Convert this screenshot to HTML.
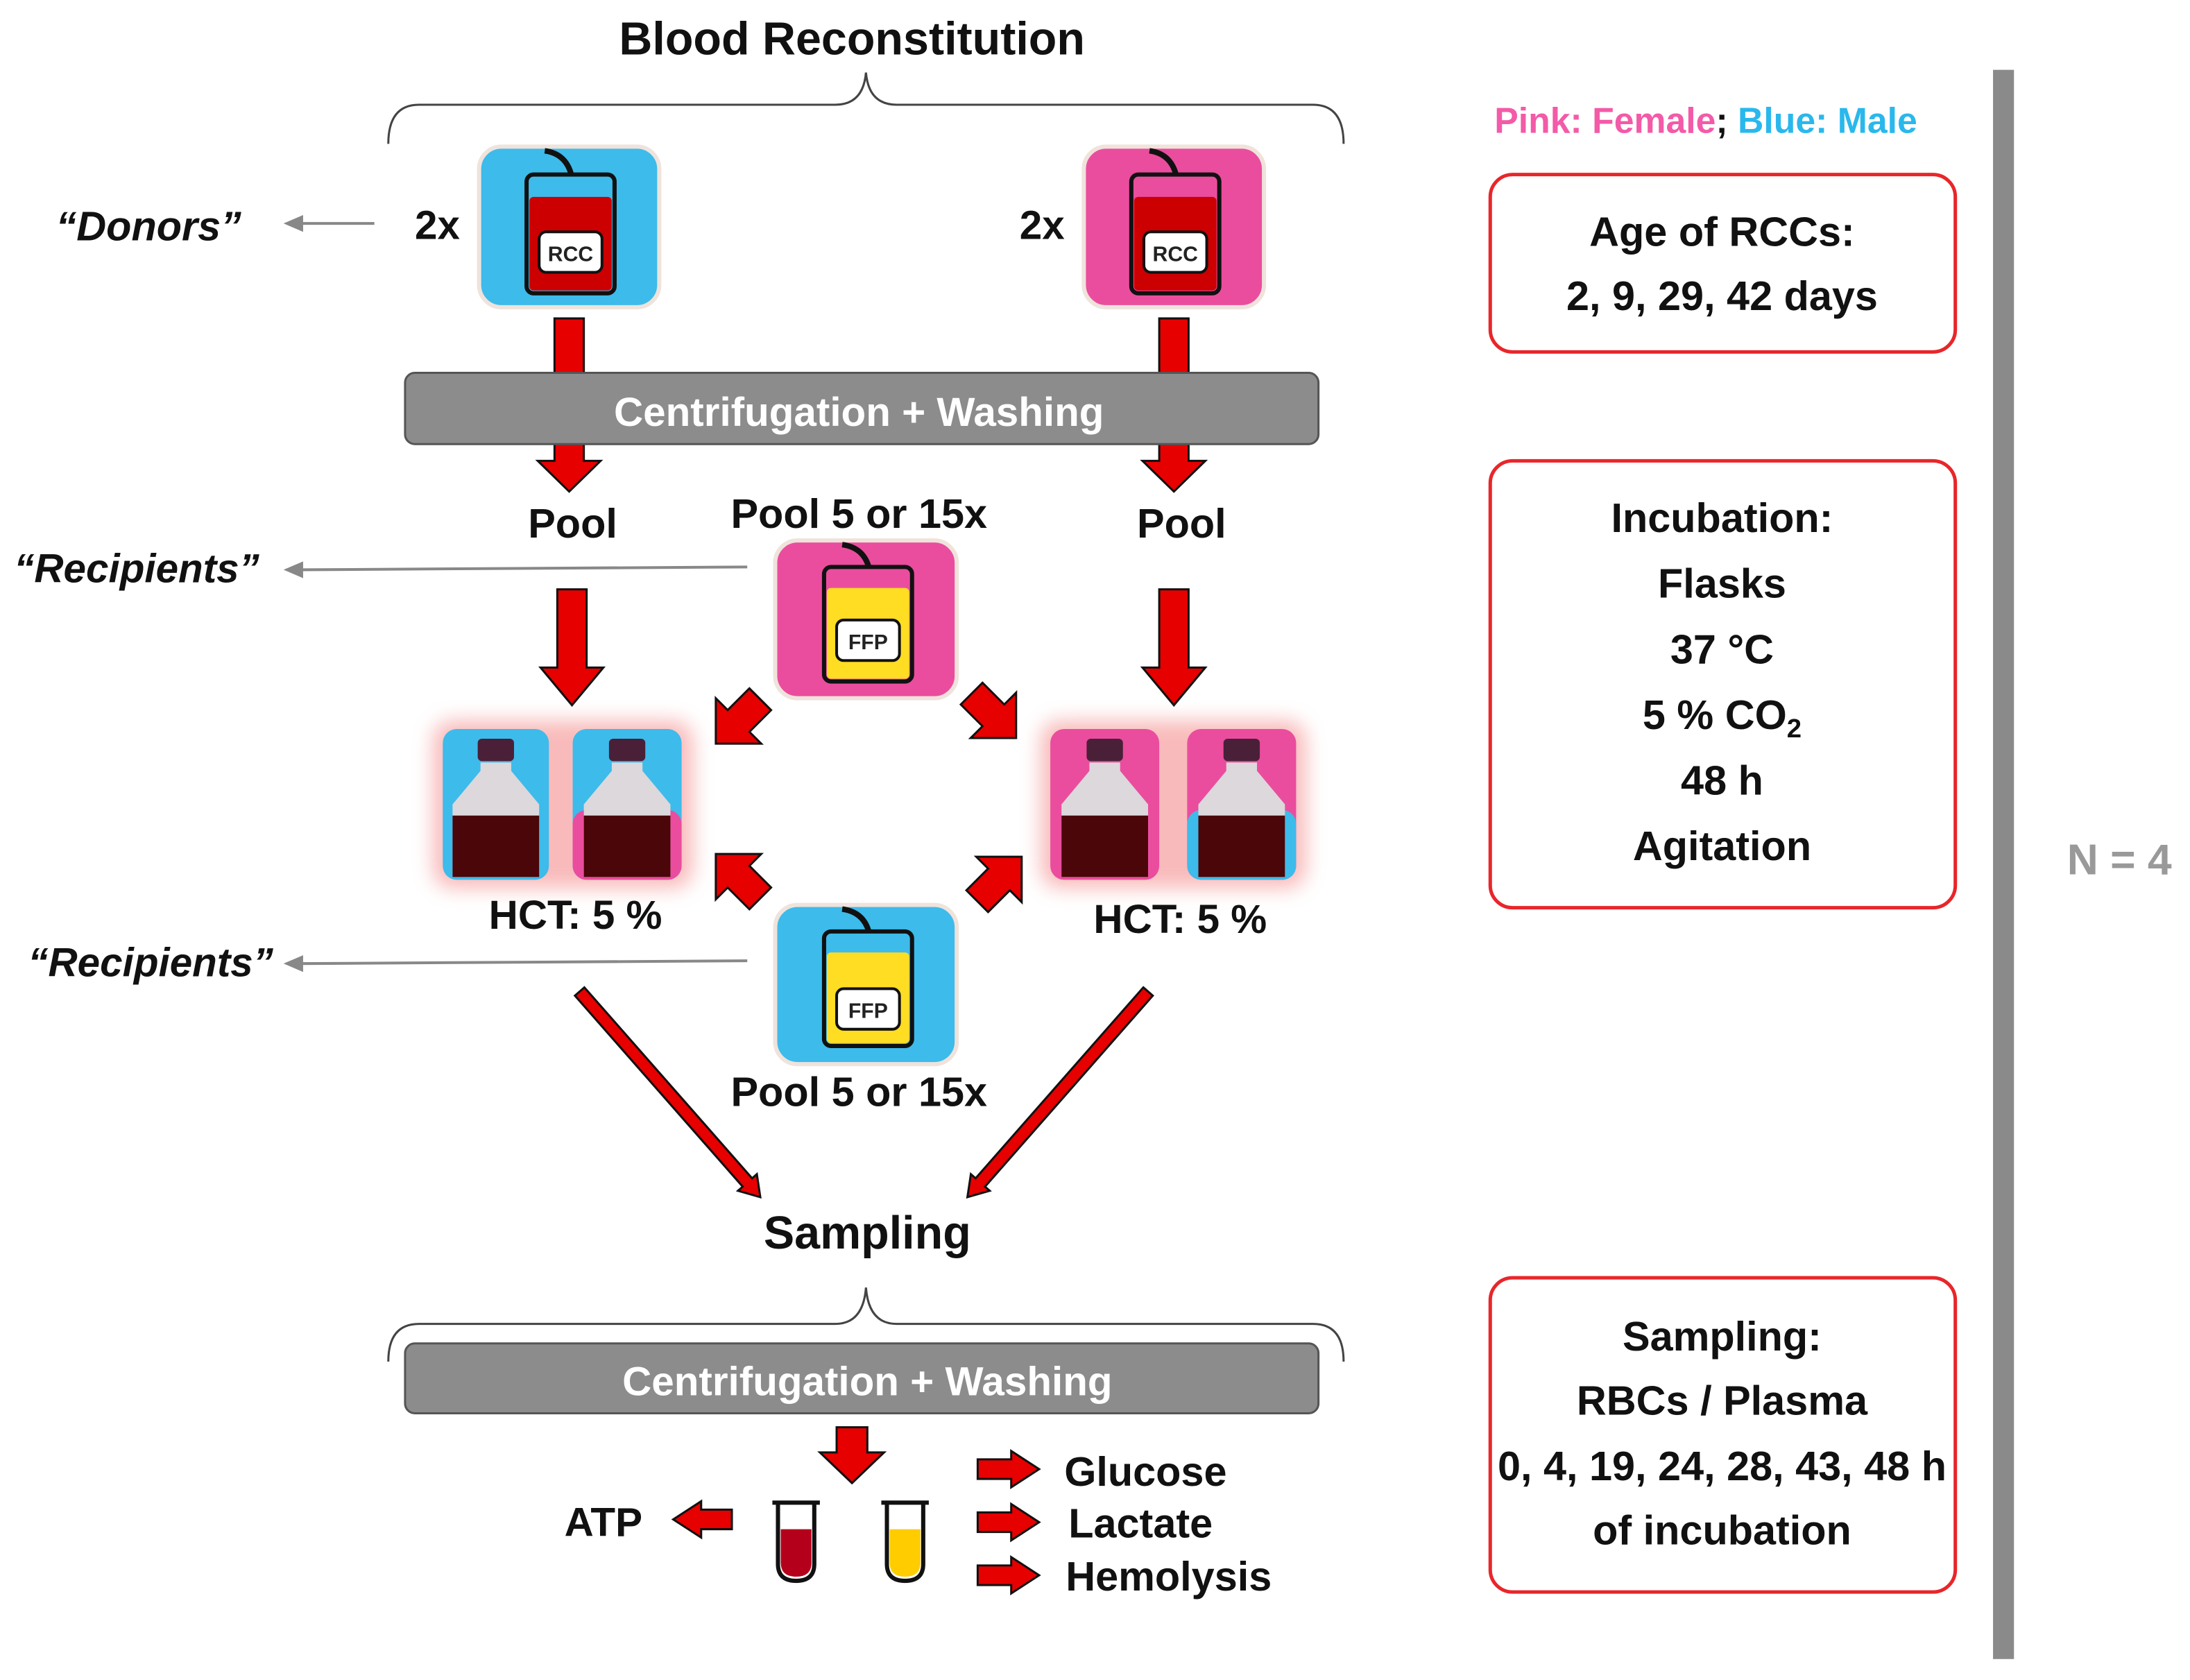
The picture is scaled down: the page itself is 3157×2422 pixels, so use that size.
<!DOCTYPE html>
<html><head><meta charset="utf-8"><style>
html,body{margin:0;padding:0;background:#fff;}
svg{display:block;}
text{font-family:"Liberation Sans",Arial,sans-serif;font-weight:bold;}
</style></head><body>
<svg width="3157" height="2422" viewBox="0 0 1568 1203" xmlns="http://www.w3.org/2000/svg">
<defs>
<filter id="glow" x="-30%" y="-30%" width="160%" height="160%"><feGaussianBlur stdDeviation="7"/></filter>
</defs>
<rect width="1568" height="1203" fill="#fff"/>

<text x="610" y="39" font-size="33" text-anchor="middle" fill="#111">Blood Reconstitution</text>
<path d="M278,103 Q278,75 300,75 L598,75 Q618,75 620,52 Q622,75 642,75 L940,75 Q962,75 962,103" fill="none" stroke="#444" stroke-width="1.5"/>

<text x="40" y="172" font-size="29.5" font-style="italic" fill="#111">“Donors”</text>
<line x1="268" y1="160" x2="215" y2="160" stroke="#888" stroke-width="2"/>
<polygon points="203,160 217,154 217,166" fill="#888"/>
<text x="297" y="171" font-size="29" fill="#111">2x</text>
<text x="730" y="171" font-size="29" fill="#111">2x</text>

<rect x="343" y="105" width="129" height="115" rx="16" fill="#3dbbeb" stroke="#efe3dc" stroke-width="3"/>
<path d="M390,108 Q405,110 409,125" fill="none" stroke="#111" stroke-width="4"/>
<rect x="377" y="125" width="63" height="85" rx="5" fill="#3dbbeb" stroke="#111" stroke-width="3"/>
<rect x="379" y="141" width="59" height="67" rx="3" fill="#cc0000"/>
<rect x="386" y="166" width="45" height="29" rx="5" fill="#fff" stroke="#111" stroke-width="2"/>
<text x="408.5" y="187" font-size="15" text-anchor="middle" fill="#222">RCC</text>

<rect x="776" y="105" width="129" height="115" rx="16" fill="#ea4d9e" stroke="#efe3dc" stroke-width="3"/>
<path d="M823,108 Q838,110 842,125" fill="none" stroke="#111" stroke-width="4"/>
<rect x="810" y="125" width="63" height="85" rx="5" fill="#ea4d9e" stroke="#111" stroke-width="3"/>
<rect x="812" y="141" width="59" height="67" rx="3" fill="#cc0000"/>
<rect x="819" y="166" width="45" height="29" rx="5" fill="#fff" stroke="#111" stroke-width="2"/>
<text x="841.5" y="187" font-size="15" text-anchor="middle" fill="#222">RCC</text>

<rect x="397" y="228" width="21" height="42" fill="#e60000" stroke="#111" stroke-width="1.5"/>
<rect x="830" y="228" width="21" height="42" fill="#e60000" stroke="#111" stroke-width="1.5"/>
<polygon points="397,316 418,316 418,330 430,330 407.5,352 385,330 397,330" fill="#e60000" stroke="#111" stroke-width="1.5"/>
<polygon points="830,316 851,316 851,330 863,330 840.5,352 818,330 830,330" fill="#e60000" stroke="#111" stroke-width="1.5"/>

<rect x="290" y="267" width="654" height="51" rx="7" fill="#8c8c8c" stroke="#555" stroke-width="1.5"/>
<text x="615" y="305" font-size="29" text-anchor="middle" fill="#fff">Centrifugation + Washing</text>

<text x="410" y="385" font-size="29.5" text-anchor="middle" fill="#111">Pool</text>
<text x="846" y="385" font-size="29.5" text-anchor="middle" fill="#111">Pool</text>
<text x="615" y="378" font-size="29.5" text-anchor="middle" fill="#111">Pool 5 or 15x</text>

<text x="10" y="417" font-size="29" font-style="italic" fill="#111">“Recipients”</text>
<line x1="535" y1="406" x2="215" y2="408" stroke="#888" stroke-width="2"/>
<polygon points="203,408 217,402 217,414" fill="#888"/>

<rect x="555" y="387" width="130" height="113" rx="16" fill="#ea4d9e" stroke="#efe3dc" stroke-width="3"/>
<path d="M603,390 Q618,392 622,406" fill="none" stroke="#111" stroke-width="4"/>
<rect x="590" y="406" width="63" height="82" rx="5" fill="#ea4d9e" stroke="#111" stroke-width="3"/>
<rect x="592" y="421" width="59" height="65" rx="3" fill="#ffdd22"/>
<rect x="599" y="444" width="45" height="29" rx="5" fill="#fff" stroke="#111" stroke-width="2"/>
<text x="621.5" y="465" font-size="15" text-anchor="middle" fill="#222">FFP</text>

<polygon points="399,422 420,422 420,478 432,478 409.5,505 387,478 399,478" fill="#e60000" stroke="#111" stroke-width="1.5"/>
<polygon points="830,422 851,422 851,478 863,478 840.5,505 818,478 830,478" fill="#e60000" stroke="#111" stroke-width="1.5"/>

<g fill="#e60000" stroke="#111" stroke-width="1.5">
<polygon points="-16,-11 6,-11 6,-23 29,0 6,23 6,11 -16,11" transform="translate(533,512) rotate(135)"/>
<polygon points="-16,-11 6,-11 6,-23 29,0 6,23 6,11 -16,11" transform="translate(707,508) rotate(45)"/>
<polygon points="-16,-11 6,-11 6,-23 29,0 6,23 6,11 -16,11" transform="translate(533,632) rotate(225)"/>
<polygon points="-16,-11 6,-11 6,-23 29,0 6,23 6,11 -16,11" transform="translate(711,634) rotate(-45)"/>
</g>

<rect x="310" y="516" width="186" height="120" rx="14" fill="#f7a9a9" filter="url(#glow)" opacity="0.8"/>
<rect x="745" y="516" width="190" height="120" rx="14" fill="#f7a9a9" filter="url(#glow)" opacity="0.8"/>

<g>
<rect x="317" y="522" width="76" height="108" rx="10" fill="#3dbbeb"/>
<rect x="342" y="529" width="26" height="16" rx="3" fill="#4a2038"/>
<path d="M344,546 L366,546 L366,552 L386,576 L386,628 L324,628 L324,576 L344,552Z" fill="#dcd8dc"/>
<rect x="324" y="584" width="62" height="44" fill="#4a0608"/>
</g>
<g>
<rect x="410" y="522" width="78" height="108" rx="10" fill="#3dbbeb"/>
<rect x="410" y="580" width="78" height="50" rx="10" fill="#ea4d9e"/>
<rect x="436" y="529" width="26" height="16" rx="3" fill="#4a2038"/>
<path d="M438,546 L460,546 L460,552 L480,576 L480,628 L418,628 L418,576 L438,552Z" fill="#dcd8dc"/>
<rect x="418" y="584" width="62" height="44" fill="#4a0608"/>
</g>
<g>
<rect x="752" y="522" width="78" height="108" rx="10" fill="#ea4d9e"/>
<rect x="778" y="529" width="26" height="16" rx="3" fill="#4a2038"/>
<path d="M780,546 L802,546 L802,552 L822,576 L822,628 L760,628 L760,576 L780,552Z" fill="#dcd8dc"/>
<rect x="760" y="584" width="62" height="44" fill="#4a0608"/>
</g>
<g>
<rect x="850" y="522" width="78" height="108" rx="10" fill="#ea4d9e"/>
<rect x="850" y="580" width="78" height="50" rx="10" fill="#3dbbeb"/>
<rect x="876" y="529" width="26" height="16" rx="3" fill="#4a2038"/>
<path d="M878,546 L900,546 L900,552 L920,576 L920,628 L858,628 L858,576 L878,552Z" fill="#dcd8dc"/>
<rect x="858" y="584" width="62" height="44" fill="#4a0608"/>
</g>

<text x="412" y="665" font-size="29" text-anchor="middle" fill="#111">HCT: 5 %</text>
<text x="845" y="668" font-size="29" text-anchor="middle" fill="#111">HCT: 5 %</text>

<text x="20" y="699" font-size="29" font-style="italic" fill="#111">“Recipients”</text>
<line x1="535" y1="688" x2="215" y2="690" stroke="#888" stroke-width="2"/>
<polygon points="203,690 217,684 217,696" fill="#888"/>

<rect x="555" y="648" width="130" height="114" rx="16" fill="#3dbbeb" stroke="#efe3dc" stroke-width="3"/>
<path d="M603,651 Q618,653 622,667" fill="none" stroke="#111" stroke-width="4"/>
<rect x="590" y="667" width="63" height="82" rx="5" fill="#3dbbeb" stroke="#111" stroke-width="3"/>
<rect x="592" y="682" width="59" height="65" rx="3" fill="#ffdd22"/>
<rect x="599" y="708" width="45" height="29" rx="5" fill="#fff" stroke="#111" stroke-width="2"/>
<text x="621.5" y="729" font-size="15" text-anchor="middle" fill="#222">FFP</text>

<text x="615" y="792" font-size="29.5" text-anchor="middle" fill="#111">Pool 5 or 15x</text>

<g fill="#e60000" stroke="#111" stroke-width="1.5">
<polygon points="0,-4.5 182,-4.5 182,-9 196,0 182,9 182,4.5 0,4.5" transform="translate(415,710) rotate(48.7)"/>
<polygon points="0,-4.5 182,-4.5 182,-9 196,0 182,9 182,4.5 0,4.5" transform="translate(822,710) rotate(131.3)"/>
</g>

<text x="621" y="894" font-size="33" text-anchor="middle" fill="#111">Sampling</text>
<path d="M278,975 Q278,948 300,948 L598,948 Q618,948 620,922 Q622,948 642,948 L940,948 Q962,948 962,975" fill="none" stroke="#444" stroke-width="1.5"/>

<rect x="290" y="962" width="654" height="50" rx="7" fill="#8c8c8c" stroke="#555" stroke-width="1.5"/>
<text x="621" y="999" font-size="29" text-anchor="middle" fill="#fff">Centrifugation + Washing</text>

<polygon points="599,1022 621,1022 621,1040 633,1040 610,1062 587,1040 599,1040" fill="#e60000" stroke="#111" stroke-width="1.5"/>
<text x="432" y="1100" font-size="29" text-anchor="middle" fill="#111">ATP</text>
<polygon points="524,1081 502,1081 502,1075 482,1088 502,1101 502,1095 524,1095" fill="#e60000" stroke="#111" stroke-width="1.5"/>

<path d="M553,1076 L587,1076 M557,1076 L557,1120 Q557,1132 570,1132 Q583,1132 583,1120 L583,1076" fill="none" stroke="#111" stroke-width="3"/>
<path d="M559,1095 L581,1095 L581,1119 Q581,1129 570,1129 Q559,1129 559,1119Z" fill="#b5001b"/>
<path d="M631,1076 L665,1076 M635,1076 L635,1120 Q635,1132 648,1132 Q661,1132 661,1120 L661,1076" fill="none" stroke="#111" stroke-width="3"/>
<path d="M637,1095 L659,1095 L659,1119 Q659,1129 648,1129 Q637,1129 637,1119Z" fill="#ffcc00"/>

<g fill="#e60000" stroke="#111" stroke-width="1.5">
<polygon points="700,1045 724,1045 724,1039 744,1052 724,1065 724,1059 700,1059"/>
<polygon points="700,1083 724,1083 724,1077 744,1090 724,1103 724,1097 700,1097"/>
<polygon points="700,1121 724,1121 724,1115 744,1128 724,1141 724,1135 700,1135"/>
</g>
<text x="762" y="1064" font-size="29.5" fill="#111">Glucose</text>
<text x="765" y="1101" font-size="29.5" fill="#111">Lactate</text>
<text x="763" y="1139" font-size="29.5" fill="#111">Hemolysis</text>

<text x="1070" y="95" font-size="25.7"><tspan fill="#f35aa8">Pink: Female</tspan><tspan fill="#111">; </tspan><tspan fill="#2ab8ec">Blue: Male</tspan></text>

<rect x="1067" y="125" width="333" height="127" rx="16" fill="#fff" stroke="#e8262a" stroke-width="2.5"/>
<text x="1233" y="176" font-size="29.5" text-anchor="middle" fill="#111">Age of RCCs:</text>
<text x="1233" y="222" font-size="29.5" text-anchor="middle" fill="#111">2, 9, 29, 42 days</text>

<rect x="1067" y="330" width="333" height="320" rx="16" fill="#fff" stroke="#e8262a" stroke-width="2.5"/>
<text x="1233" y="381" font-size="29.5" text-anchor="middle" fill="#111">Incubation:</text>
<text x="1233" y="428" font-size="29.5" text-anchor="middle" fill="#111">Flasks</text>
<text x="1233" y="475" font-size="29.5" text-anchor="middle" fill="#111">37 °C</text>
<text x="1233" y="522" font-size="29.5" text-anchor="middle" fill="#111">5 %  CO<tspan font-size="19" dy="6">2</tspan></text>
<text x="1233" y="569" font-size="29.5" text-anchor="middle" fill="#111">48 h</text>
<text x="1233" y="616" font-size="29.5" text-anchor="middle" fill="#111">Agitation</text>

<rect x="1067" y="915" width="333" height="225" rx="16" fill="#fff" stroke="#e8262a" stroke-width="2.5"/>
<text x="1233" y="967" font-size="29.5" text-anchor="middle" fill="#111">Sampling:</text>
<text x="1233" y="1013" font-size="29.5" text-anchor="middle" fill="#111">RBCs / Plasma</text>
<text x="1233" y="1060" font-size="29.5" text-anchor="middle" fill="#111">0, 4, 19, 24, 28, 43, 48 h</text>
<text x="1233" y="1106" font-size="29.5" text-anchor="middle" fill="#111">of incubation</text>

<rect x="1427" y="50" width="15" height="1138" fill="#8a8a8a"/>
<text x="1480" y="626" font-size="31" fill="#999">N = 4</text>
</svg>
</body></html>
